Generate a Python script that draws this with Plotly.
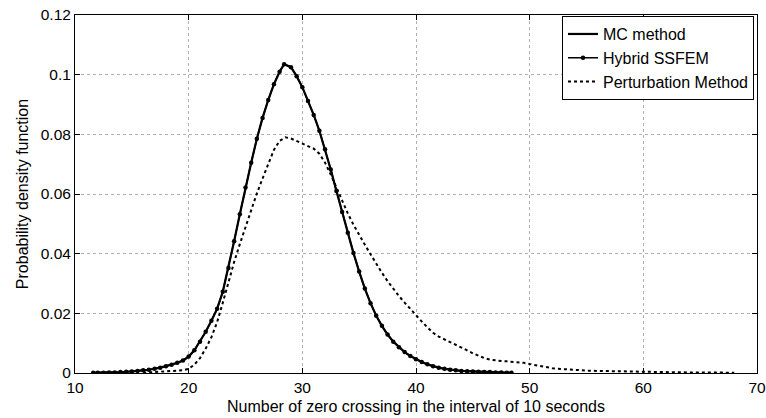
import plotly.graph_objects as go

# MC method / Hybrid SSFEM (same curve)
x_mc = [11.6, 12, 12.5, 13, 13.5, 14, 14.5, 15, 15.5, 16, 16.5, 17, 17.5, 18, 18.5, 19, 19.5,
        20, 20.5, 21, 21.5, 22, 22.5, 23, 23.5, 24, 24.5, 25, 25.5, 26, 26.5, 27, 27.5,
        28, 28.4, 29, 29.5, 30, 30.5, 31, 31.5, 32, 32.5, 33, 33.5, 34, 34.5, 35, 35.5,
        36, 36.5, 37, 37.5, 38, 38.5, 39, 39.5, 40, 40.5, 41, 41.5, 42, 42.5, 43, 43.5,
        44, 44.5, 45, 45.5, 46, 46.5, 47, 47.5, 48, 48.4]
y_mc = [0.0001, 0.0001, 0.0001, 0.0002, 0.0002, 0.0003, 0.0004, 0.0005, 0.0007, 0.0009, 0.0011,
        0.0014, 0.0018, 0.0023, 0.0028, 0.0034, 0.0042,
        0.0055, 0.0076, 0.0105, 0.0138, 0.0175, 0.0215, 0.0272, 0.0352, 0.0442, 0.0532, 0.0622,
        0.0705, 0.0785, 0.0855, 0.0915, 0.0968,
        0.1010, 0.1035, 0.1025, 0.0995, 0.0958, 0.0912, 0.0865, 0.0812, 0.0750, 0.0682, 0.0610,
        0.0540, 0.0470, 0.0402, 0.0340, 0.0283,
        0.0234, 0.0192, 0.0158, 0.0129, 0.0105, 0.0086, 0.0070, 0.0057, 0.0046, 0.0037, 0.0029,
        0.0023, 0.0018, 0.0014, 0.0011, 0.0009,
        0.0007, 0.0006, 0.0005, 0.0004, 0.0003, 0.0003, 0.0002, 0.0002, 0.0001, 0.0001]

# Perturbation method
x_pm = [16, 16.5, 17, 17.5, 18, 18.5, 19, 19.5, 20, 20.5, 21, 21.5, 22, 22.5, 23, 23.5, 24,
        24.5, 25, 25.5, 26, 26.5, 27, 27.5, 28, 28.5, 29, 29.5, 30, 30.5, 31, 31.5, 32, 32.5,
        33, 33.5, 34, 34.5, 35, 35.5, 36, 36.5, 37, 37.5, 38, 38.5, 39, 39.5, 40, 40.5, 41,
        41.5, 42, 42.5, 43, 43.5, 44, 44.5, 45, 45.5, 46, 46.5, 47, 47.5, 48, 48.5, 49, 49.5,
        50, 50.5, 51, 51.5, 52, 53, 54, 55, 56, 57, 58, 60, 62, 64, 66, 68]
y_pm = [0.0001, 0.0002, 0.0002, 0.0003, 0.0004, 0.0005, 0.0007, 0.0009, 0.0014, 0.0028, 0.0050,
        0.0082, 0.0120, 0.0170, 0.0235, 0.0305, 0.0372,
        0.0432, 0.0490, 0.0548, 0.0602, 0.0652, 0.0702, 0.0748, 0.0778, 0.0790, 0.0786, 0.0778,
        0.0770, 0.0761, 0.0752, 0.0735, 0.0705, 0.0665,
        0.0620, 0.0576, 0.0535, 0.0497, 0.0462, 0.0430, 0.0398, 0.0366, 0.0336, 0.0308, 0.0282,
        0.0258, 0.0236, 0.0214, 0.0193, 0.0173, 0.0153,
        0.0135, 0.0122, 0.0113, 0.0105, 0.0096, 0.0086, 0.0076, 0.0066, 0.0057, 0.0050, 0.0045,
        0.0042, 0.0040, 0.0039, 0.0038, 0.0037, 0.0034,
        0.0030, 0.0026, 0.0022, 0.0019, 0.0016, 0.0013, 0.0010, 0.0008, 0.0007, 0.0006, 0.0005,
        0.0004, 0.0003, 0.0002, 0.0002, 0.0001]

x_ticks = [10, 20, 30, 40, 50, 60, 70]
y_ticks = [0, 0.02, 0.04, 0.06, 0.08, 0.1, 0.12]
y_tick_text = ["0", "0.02", "0.04", "0.06", "0.08", "0.1", "0.12"]

fig = go.Figure()
fig.add_trace(go.Scatter(x=x_mc, y=y_mc, mode="lines", name="MC method",
                         line=dict(color="black", width=2.2)))
fig.add_trace(go.Scatter(x=x_mc, y=y_mc, mode="lines+markers", name="Hybrid SSFEM",
                         line=dict(color="black", width=1.5),
                         marker=dict(color="black", size=4.5, symbol="circle")))
fig.add_trace(go.Scatter(x=x_pm, y=y_pm, mode="lines", name="Perturbation Method",
                         line=dict(color="black", width=2, dash="3px,3px")))

axis_common = dict(showline=True, linecolor="black", linewidth=1, mirror="ticks",
                   ticks="inside", ticklen=5, tickcolor="black",
                   showgrid=True, gridcolor="#b0b0b0", gridwidth=1, griddash="dot",
                   zeroline=False, automargin=False,
                   tickfont=dict(size=15.5, color="black"))

fig.update_xaxes(range=[10, 70], tickvals=x_ticks, ticktext=[str(v) for v in x_ticks],
                 title=dict(text="Number of zero crossing in the interval of 10 seconds",
                            font=dict(size=16, color="black"), standoff=6),
                 **axis_common)
fig.update_yaxes(range=[0, 0.12], tickvals=y_ticks, ticktext=y_tick_text,
                 title=dict(text="Probability density function",
                            font=dict(size=16, color="black"), standoff=8),
                 **axis_common)

fig.update_layout(
    width=766, height=418,
    margin=dict(l=75, r=9, t=15, b=45),
    plot_bgcolor="white", paper_bgcolor="white",
    font=dict(family="Liberation Sans, Arial, sans-serif", color="black"),
    showlegend=True,
    legend=dict(x=0.9956, y=0.997, xanchor="right", yanchor="top",
                bordercolor="black", borderwidth=1, bgcolor="white",
                font=dict(size=16, color="black"), itemwidth=30,
                tracegroupgap=0),
)

fig.write_html("out.html")
